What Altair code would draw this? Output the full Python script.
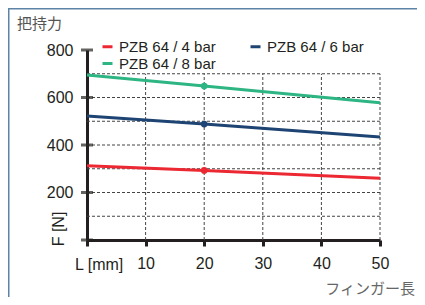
import altair as alt
import pandas as pd

# ---- data ----
finger_len = [0, 20, 50]
f_4bar = [313, 293, 260]
f_6bar = [522, 488, 434]
f_8bar = [695, 648, 578]
series_names = ["PZB 64 / 4 bar", "PZB 64 / 6 bar", "PZB 64 / 8 bar"]
series_colors = ["#ec2832", "#1e4473", "#2db583"]
legend_order = [0, 2, 1]  # legend fills column by column
marker_x = 20

x_ticks = [0, 10, 20, 30, 40, 50]
y_ticks = [0, 200, 400, 600, 800]
grid_x = [10, 20, 30, 40, 50]
grid_y = [100, 200, 300, 400, 500, 600, 700]
grid_top = 700

title_text = "把持力"
xunit_text = "L [mm]"
yunit_text = "F [N]"
xname_text = "フィンガー長"

W, H = 409, 289
FONT = "Liberation Sans"
INK = "#231f20"

rows = []
for name, vals in zip(series_names, [f_4bar, f_6bar, f_8bar]):
    for x, v in zip(finger_len, vals):
        rows.append({"L": x, "F": v, "series": name})
df = pd.DataFrame(rows)
df_pts = df[df["L"] == marker_x]

xs = alt.Scale(domain=[0, 50], range=[79, 372], nice=False, zero=False)
ys = alt.Scale(domain=[0, 800], range=[232, 42], nice=False, zero=False)
cs = alt.Scale(domain=[series_names[i] for i in legend_order],
               range=[series_colors[i] for i in legend_order])

x_axis = alt.Axis(values=x_ticks, offset=-57, domainColor=INK, domainWidth=3,
                  tickColor=INK, tickWidth=3, tickSize=6, grid=False, labelFlush=False,
                  labelExpr="datum.value == 0 ? '' : datum.label",
                  labelFont=FONT, labelFontSize=16, labelColor=INK, labelPadding=9)
y_axis = alt.Axis(values=y_ticks, offset=-79, domainColor=INK, domainWidth=3,
                  ticks=False, grid=False, labelFont=FONT, labelFontSize=16, labelFlush=False,
                  labelExpr="datum.value == 0 ? '' : datum.label",
                  labelColor=INK, labelPadding=14)

def X(field):
    return alt.X(field, scale=xs, axis=x_axis, title=None)

def Y(field):
    return alt.Y(field, scale=ys, axis=y_axis, title=None)

one = pd.DataFrame({"a": [0]})
frame_top = alt.Chart(one).mark_rule(color="#5d84a8", strokeWidth=1.5).encode(
    x=alt.value(0), x2=alt.value(W), y=alt.value(0.75))
frame_left = alt.Chart(one).mark_rule(color="#5d84a8", strokeWidth=1.5).encode(
    x=alt.value(0.75), y=alt.value(0), y2=alt.value(H))

hg = pd.DataFrame({"g": grid_y, "x0": [0] * len(grid_y), "x1": [50] * len(grid_y)})
hgrid = alt.Chart(hg).mark_rule(color="#444444", strokeWidth=1, strokeDash=[3, 2]).encode(
    y=Y("g:Q"), x=X("x0:Q"), x2="x1:Q")
vg = pd.DataFrame({"g": grid_x, "y0": [0] * len(grid_x), "y1": [grid_top] * len(grid_x)})
vgrid = alt.Chart(vg).mark_rule(color="#444444", strokeWidth=1, strokeDash=[3, 2]).encode(
    x=X("g:Q"), y=Y("y0:Q"), y2="y1:Q")

lines = alt.Chart(df).mark_line(strokeWidth=3).encode(
    x=X("L:Q"), y=Y("F:Q"),
    color=alt.Color("series:N", scale=cs, title=None,
                    legend=alt.Legend(orient="none", legendX=92, legendY=31, columns=2,
                                      columnPadding=28, rowPadding=1, symbolType="stroke",
                                      symbolSize=100, symbolStrokeWidth=3, labelFontSize=15,
                                      labelFont=FONT, labelColor=INK, labelOffset=4)),
)
points = alt.Chart(df_pts).mark_circle(size=45, opacity=1).encode(
    x=X("L:Q"), y=Y("F:Q"),
    color=alt.Color("series:N", scale=cs, legend=None))

yt = pd.DataFrame({"t": y_ticks, "x0": [0] * len(y_ticks)})
yticks = alt.Chart(yt).mark_tick(orient="horizontal", size=12, thickness=3, color=INK).encode(
    y=Y("t:Q"), x=X("x0:Q"))

def label(txt, x, y, size, color, align="left", angle=0, font=FONT):
    return alt.Chart(pd.DataFrame({"t": [txt]})).mark_text(
        align=align, baseline="middle", fontSize=size, color=color, angle=angle, font=font).encode(
        text="t:N", x=alt.value(x), y=alt.value(y))

t1 = label(title_text, 9, 16, 15, "#555555", font="Noto Sans CJK JP")
t2 = label(xname_text, 407, 281, 15, "#666666", align="right", font="Noto Sans CJK JP")
t3 = label(xunit_text, 67, 257, 16, INK)
t4 = label(yunit_text, 51, 221, 16, INK, angle=270, align="center")

chart = alt.layer(frame_top, frame_left, hgrid, vgrid, lines, points, yticks, t1, t2, t3, t4).properties(
    width=W, height=H, autosize=alt.AutoSizeParams(type="none"), padding=0
).configure_view(stroke=None)

chart.save("out.html", embed_options={"renderer": "svg", "actions": False})
